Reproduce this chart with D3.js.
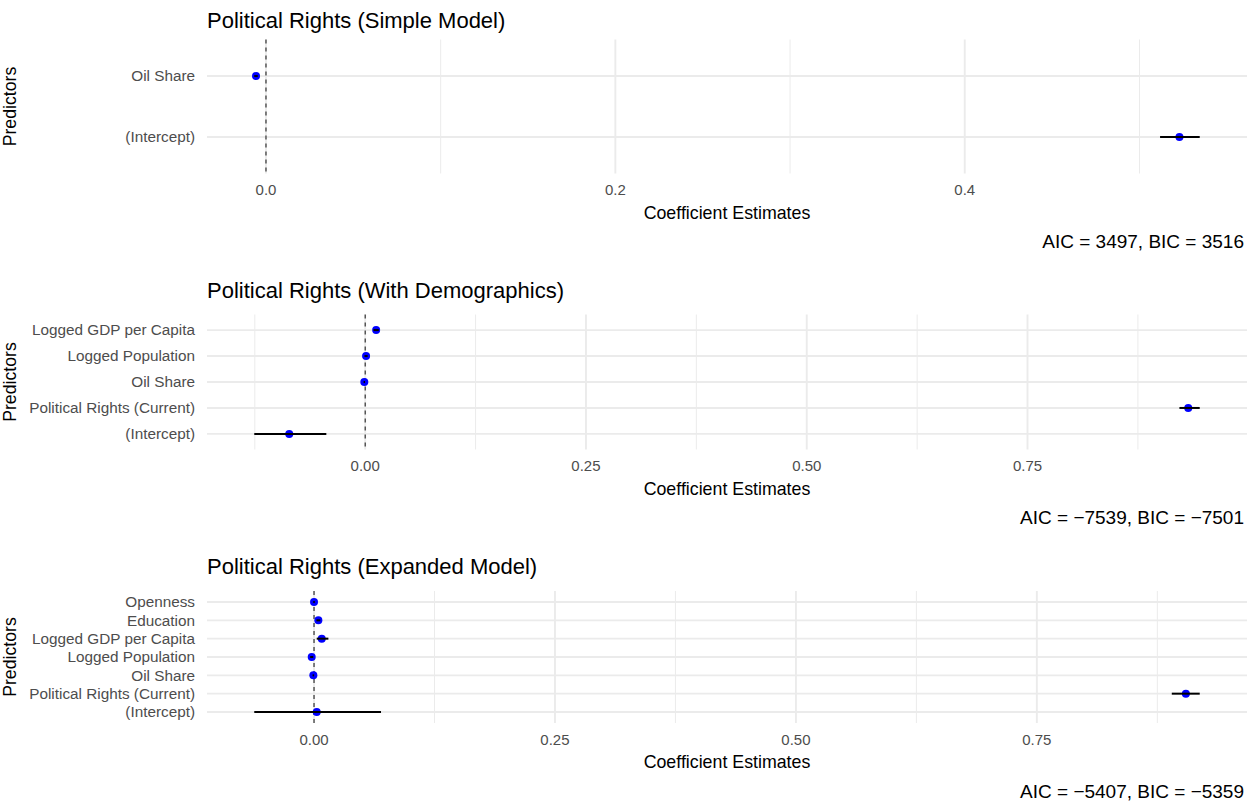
<!DOCTYPE html>
<html>
<head>
<meta charset="utf-8">
<script src="https://cdn.jsdelivr.net/npm/d3@7"></script>
<style>
  body { margin: 0; background: #fff; }
  text { font-family: "Liberation Sans", Arial, sans-serif; }
</style>
</head>
<body>
<div id="chart"></div>
<script>
// model titles and captions
const modelTitles = [
  "Political Rights (Simple Model)",
  "Political Rights (With Demographics)",
  "Political Rights (Expanded Model)"
];
const modelCaptions = [
  "AIC = 3497, BIC = 3516",
  "AIC = \u22127539, BIC = \u22127501",
  "AIC = \u22125407, BIC = \u22125359"
];

// predictors per model (top to bottom)
const simpleTerms = ["Oil Share", "(Intercept)"];
const simpleEst = [-0.0057, 0.5229];
const simpleLow = [-0.0067, 0.5118];
const simpleHigh = [-0.0047, 0.5345];

const demoTerms = ["Logged GDP per Capita", "Logged Population", "Oil Share", "Political Rights (Current)", "(Intercept)"];
const demoEst = [0.0124, 0.0010, -0.0010, 0.9320, -0.0860];
const demoLow = [0.0094, -0.0008, -0.0018, 0.9220, -0.1256];
const demoHigh = [0.0154, 0.0028, -0.0002, 0.9450, -0.0440];

const expTerms = ["Openness", "Education", "Logged GDP per Capita", "Logged Population", "Oil Share", "Political Rights (Current)", "(Intercept)"];
const expEst = [0.0000, 0.0045, 0.0080, -0.0024, -0.0007, 0.9046, 0.0028];
const expLow = [-0.0008, 0.0025, 0.0028, -0.0040, -0.0015, 0.8900, -0.0620];
const expHigh = [0.0008, 0.0065, 0.0149, -0.0008, 0.0001, 0.9190, 0.0695];

// axis ticks
const simpleTicks = [0, 0.2, 0.4];
const simpleTickLabels = ["0.0", "0.2", "0.4"];
const simpleMinor = [0.1, 0.3, 0.5];
const quarterTicks = [0, 0.25, 0.5, 0.75];
const quarterTickLabels = ["0.00", "0.25", "0.50", "0.75"];
const quarterMinor = [-0.125, 0.125, 0.375, 0.625, 0.875];

const W = 1247, H = 805;
const svg = d3.select("#chart").append("svg").attr("width", W).attr("height", H);

const panels = [
  { terms: simpleTerms, est: simpleEst, low: simpleLow, high: simpleHigh,
    ticks: simpleTicks, labels: simpleTickLabels, minor: simpleMinor, top: 39.5, bottom: 173.5, titleY: 20 },
  { terms: demoTerms, est: demoEst, low: demoLow, high: demoHigh,
    ticks: quarterTicks, labels: quarterTickLabels, minor: quarterMinor, top: 314.5, bottom: 449.5, titleY: 290 },
  { terms: expTerms, est: expEst, low: expLow, high: expHigh,
    ticks: quarterTicks, labels: quarterTickLabels, minor: quarterMinor, top: 591, bottom: 723, titleY: 566 }
];

const left = 207, right = 1247;

panels.forEach((p, k) => {
  const g = svg.append("g");
  const rows = p.terms.map((t, i) => ({ term: t, est: p.est[i], low: p.low[i], high: p.high[i] }));

  // ggplot style 5% expansion
  const lo = d3.min(rows, d => d.low), hi = d3.max(rows, d => d.high);
  const pad = (hi - lo) * 0.05;
  const x = d3.scaleLinear().domain([lo - pad, hi + pad]).range([left, right]);

  // discrete axis with 0.6 unit expansion
  const n = rows.length;
  const y = d3.scaleLinear().domain([-0.6, n - 1 + 0.6]).range([p.top, p.bottom]);

  // minor grid
  g.selectAll(".minor").data(p.minor.filter(v => v >= x.domain()[0] && v <= x.domain()[1]))
    .enter().append("line")
    .attr("x1", d => x(d)).attr("x2", d => x(d))
    .attr("y1", p.top).attr("y2", p.bottom)
    .attr("stroke", "#ebebeb").attr("stroke-width", 1);

  // major grid
  g.selectAll(".majorx").data(p.ticks).enter().append("line")
    .attr("x1", d => x(d)).attr("x2", d => x(d))
    .attr("y1", p.top).attr("y2", p.bottom)
    .attr("stroke", "#ebebeb").attr("stroke-width", 1.9);
  g.selectAll(".majory").data(rows).enter().append("line")
    .attr("x1", left).attr("x2", right)
    .attr("y1", (d, i) => y(i)).attr("y2", (d, i) => y(i))
    .attr("stroke", "#ebebeb").attr("stroke-width", 1.9);

  // zero reference line
  g.append("line")
    .attr("x1", x(0)).attr("x2", x(0))
    .attr("y1", p.top).attr("y2", p.bottom)
    .attr("stroke", "#222").attr("stroke-width", 1.1)
    .attr("stroke-dasharray", "4,4");

  // points
  g.selectAll(".pt").data(rows).enter().append("circle")
    .attr("cx", d => x(d.est)).attr("cy", (d, i) => y(i))
    .attr("r", 4).attr("fill", "#0000ff");

  // error bars (drawn over the points)
  g.selectAll(".err").data(rows).enter().append("line")
    .attr("x1", d => x(d.low)).attr("x2", d => x(d.high))
    .attr("y1", (d, i) => y(i)).attr("y2", (d, i) => y(i))
    .attr("stroke", "#000").attr("stroke-width", 2);

  // y labels
  g.selectAll(".ylab").data(rows).enter().append("text")
    .attr("x", left - 12).attr("y", (d, i) => y(i))
    .attr("dy", "0.35em").attr("text-anchor", "end")
    .attr("font-size", "15.3px").attr("fill", "#4d4d4d")
    .text(d => d.term);

  // x tick labels
  g.selectAll(".xlab").data(p.ticks).enter().append("text")
    .attr("x", d => x(d)).attr("y", p.bottom + 16.5)
    .attr("dy", "0.35em").attr("text-anchor", "middle")
    .attr("font-size", "15px").attr("fill", "#4d4d4d")
    .text((d, i) => p.labels[i]);

  // axis titles
  g.append("text")
    .attr("x", (left + right) / 2).attr("y", p.bottom + 39)
    .attr("dy", "0.35em").attr("text-anchor", "middle")
    .attr("font-size", "17.8px").attr("fill", "#000")
    .text("Coefficient Estimates");
  g.append("text")
    .attr("transform", `translate(10,${(p.top + p.bottom) / 2}) rotate(-90)`)
    .attr("dy", "0.35em").attr("text-anchor", "middle")
    .attr("font-size", "17.7px").attr("fill", "#000")
    .text("Predictors");

  // title
  g.append("text")
    .attr("x", left).attr("y", p.titleY)
    .attr("dy", "0.35em")
    .attr("font-size", "22px").attr("fill", "#000")
    .text(modelTitles[k]);

  // caption
  g.append("text")
    .attr("x", W - 3).attr("y", p.bottom + 68)
    .attr("dy", "0.35em").attr("text-anchor", "end")
    .attr("font-size", "19px").attr("fill", "#000")
    .text(modelCaptions[k]);
});
</script>
</body>
</html>
